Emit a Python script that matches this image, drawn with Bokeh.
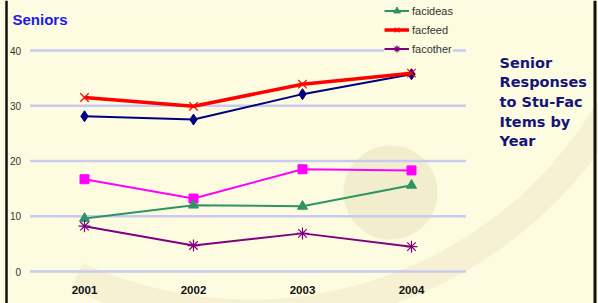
from bokeh.plotting import figure
from bokeh.models import Range1d, FixedTicker, Legend, LegendItem, Label, Span
from bokeh.embed import file_html
from bokeh.resources import INLINE

years = [2001, 2002, 2003, 2004]
y_ticks = [0, 10, 20, 30, 40]

series_navy = [28.1, 27.5, 32.1, 35.7]
facfeed = [31.5, 29.9, 33.9, 35.9]
series_magenta = [16.7, 13.2, 18.5, 18.3]
facideas = [9.6, 12.0, 11.8, 15.6]
facother = [8.2, 4.7, 6.9, 4.5]

side_title = ["Senior", "Responses", "to Stu-Fac", "Items by", "Year"]

W, H = 598, 303
BG = "#FDFCE1"

# page layout: first category at 84px, 109px per category; 0 at 271px, 40 at 50px
px_per_year = 109.0
px_per_unit = (271 - 50) / 40.0
x0 = years[0] - 84 / px_per_year
y0 = y_ticks[0] - (H - 271) / px_per_unit


def px_x(px):
    return x0 + px / px_per_year


def px_y(py):
    return y0 + (H - py) / px_per_unit


p = figure(width=W, height=H,
           x_range=Range1d(x0, px_x(W)),
           y_range=Range1d(y0, px_y(0)),
           output_backend="svg", toolbar_location=None, min_border=0,
           background_fill_color=BG, border_fill_color=BG)
p.outline_line_color = None
p.xgrid.visible = False
p.ygrid.visible = False

# faint background decoration of the slide (swoosh + disc)
p.annular_wedge(x=[px_x(250)], y=[px_y(-104)], inner_radius=403, outer_radius=432,
                inner_radius_units="screen", outer_radius_units="screen",
                start_angle=-2.0, end_angle=-0.3, fill_color="#F6F1D3",
                fill_alpha=1.0, line_color=None)
p.circle(x=[px_x(390)], y=[px_y(192)], radius=47, radius_units="screen",
         fill_color="#F2EDCD", fill_alpha=1.0, line_color=None)

p.yaxis.ticker = FixedTicker(ticks=y_ticks)
p.xaxis.ticker = FixedTicker(ticks=years)
p.yaxis.fixed_location = years[0] - 0.5
p.xaxis.fixed_location = y_ticks[0]
for ax in (p.xaxis[0], p.yaxis[0]):
    ax.axis_line_color = None
    ax.major_tick_line_color = None
    ax.minor_tick_line_color = None
    ax.major_tick_out = 0
    ax.major_tick_in = 0
p.yaxis.major_label_text_font = "Liberation Sans"
p.yaxis.major_label_text_font_size = "10px"
p.yaxis.major_label_text_color = "#333333"
p.yaxis.major_label_standoff = 9
p.xaxis.major_label_text_font = "Liberation Sans"
p.xaxis.major_label_text_font_size = "11.5px"
p.xaxis.major_label_text_font_style = "bold"
p.xaxis.major_label_text_color = "#111111"
p.xaxis.major_label_standoff = 14

# horizontal grid lines spanning the category band
p.segment(x0=[years[0] - 0.5] * len(y_ticks), y0=y_ticks,
          x1=[years[-1] + 0.5] * len(y_ticks), y1=y_ticks,
          line_color="#C9C9F2", line_width=2.5)

# series whose legend entries are cut off in the original
p.line(years, series_navy, line_color="#000080", line_width=2)
p.scatter(years, series_navy, marker="diamond", size=11, color="#000080")
p.line(years, series_magenta, line_color="#FF00FF", line_width=2)
p.scatter(years, series_magenta, marker="square", size=9, color="#FF00FF")

l1 = p.line(years, facideas, line_color="#2E9466", line_width=2)
m1 = p.scatter(years, facideas, marker="triangle", size=10, color="#2E9466")
l2 = p.line(years, facfeed, line_color="#FF0000", line_width=3.5)
m2 = p.scatter(years, facfeed, marker="x", size=12, line_color="#FF0000", line_width=1.2)
l3 = p.line(years, facother, line_color="#800080", line_width=2)
m3 = p.scatter(years, facother, marker="asterisk", size=12, line_color="#800080", line_width=1.2)

legend = Legend(items=[LegendItem(label="facideas", renderers=[l1, m1]),
                       LegendItem(label="facfeed", renderers=[l2, m2]),
                       LegendItem(label="facother", renderers=[l3, m3])],
                location=(384, 246), margin=0, padding=6, spacing=2,
                glyph_width=25, glyph_height=17, label_height=17, label_standoff=3,
                label_text_font="Liberation Sans", label_text_font_size="11px",
                label_text_color="#333333",
                background_fill_color=BG, background_fill_alpha=1.0,
                border_line_color=None)
p.add_layout(legend, "center")

p.add_layout(Label(x=12, y=H - 19, x_units="screen", y_units="screen", text="Seniors",
                   text_font="Liberation Sans", text_font_size="15px", text_font_style="bold",
                   text_color="#1A1AF0", text_baseline="alphabetic"))
for i, t in enumerate(side_title):
    p.add_layout(Label(x=499, y=H - 62 - i * 19.7, x_units="screen", y_units="screen",
                       text=t, text_font="DejaVu Sans", text_font_size="14.5px",
                       text_font_style="bold", text_color="#14147A",
                       text_baseline="alphabetic"))

# slide frame lines
p.add_layout(Span(location=6, location_units="screen", dimension="height",
                  line_color="#111111", line_width=2.5))
p.add_layout(Span(location=594.5, location_units="screen", dimension="height",
                  line_color="#111111", line_width=3))

open("out.html", "w").write(file_html(p, INLINE))
